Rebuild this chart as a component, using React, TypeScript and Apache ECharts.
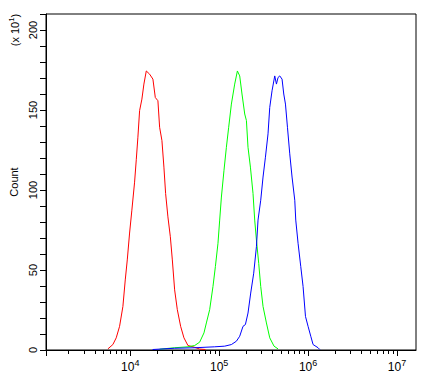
import React, { useEffect, useRef } from "react";
import * as echarts from "echarts";

// Fluorescence intensity (x) and count (x10^1) per curve
const redX = [5600, 6370, 6950, 7580, 8260, 8780, 9250, 9820, 10420, 11180, 11690, 12180, 12730, 13510, 14230, 15140, 16500, 17970, 19120, 20460, 21380, 22700, 23900, 24970, 26510, 28220, 29720, 31540, 33820, 36850, 40150, 44540, 50700, 60300, 70000];
const redY = [0.7, 3.4, 7.6, 14.8, 27.2, 43.8, 56.3, 73.1, 87.4, 104.9, 119.2, 133.0, 149.6, 156.8, 166.2, 174.4, 172.4, 169.3, 157.8, 155.8, 139.2, 130.9, 114.3, 97.8, 83.2, 70.8, 56.3, 37.6, 25.2, 14.8, 7.6, 2.8, 2.0, 0.6, 0.3];

const greenX = [21400, 31540, 44540, 52990, 60300, 67450, 71770, 78170, 85150, 90630, 96940, 101300, 105900, 113300, 120500, 127900, 137200, 149500, 160300, 170200, 180600, 193800, 202500, 211000, 224600, 240300, 251000, 262400, 278600, 293400, 311400, 340100, 370500, 414200, 459400];
const greenY = [0.5, 1.4, 2.0, 2.8, 4.9, 10.7, 16.9, 25.2, 39.7, 52.1, 66.7, 81.2, 95.6, 112.3, 126.7, 139.2, 153.7, 166.2, 174.4, 171.3, 160.0, 147.5, 143.4, 126.7, 114.3, 97.8, 81.2, 68.7, 54.0, 39.7, 27.2, 16.9, 7.6, 2.4, 0.7];

const blueX = [17830, 31540, 52990, 88990, 115300, 137200, 156200, 170200, 185400, 197200, 211000, 226300, 244600, 262400, 273500, 293400, 311400, 331400, 354400, 370500, 393200, 421700, 440700, 459400, 480100, 509600, 532600, 556700, 586200, 622300, 660500, 708500, 726800, 771700, 827800, 878600, 935000, 1000000, 1072500, 1138700, 1296000, 1355000];
const blueY = [0.3, 1.1, 1.4, 2.0, 2.4, 3.4, 5.5, 8.6, 14.8, 15.9, 23.1, 35.6, 48.0, 64.6, 81.2, 93.6, 108.1, 120.5, 135.1, 151.6, 162.0, 171.3, 166.2, 170.3, 171.3, 169.3, 160.0, 153.7, 139.2, 122.6, 108.1, 93.6, 81.2, 66.7, 52.1, 39.7, 21.0, 14.8, 8.6, 3.4, 1.4, 0.3];

const xMin = 1127;
const xMax = 16370000;
const xLabelValues = [10000, 100000, 1000000, 10000000];
const xMinorTicks = [
  2000, 3000, 4000, 5000, 6000, 7000, 8000, 9000,
  20000, 30000, 40000, 50000, 60000, 70000, 80000, 90000,
  200000, 300000, 400000, 500000, 600000, 700000, 800000, 900000,
  2000000, 3000000, 4000000, 5000000, 6000000, 7000000, 8000000, 9000000,
];
const yLabelValues = [0, 50, 100, 150, 200];

const zip = (xs: number[], ys: number[]) => xs.map((x, i) => [x, ys[i]]);

export default function App() {
  const ref = useRef<HTMLDivElement>(null);
  useEffect(() => {
    document.body.style.margin = "0";
    const chart = echarts.init(ref.current!, null, { renderer: "svg" });
    const font = "Liberation Sans";
    const lineSeries = (data: number[][], color: string) => ({
      type: "line",
      data,
      xAxisIndex: 0,
      symbol: "none",
      smooth: false,
      lineStyle: { color, width: 1 },
      itemStyle: { color },
    });
    chart.setOption({
      animation: false,
      backgroundColor: "#fff",
      grid: {
        left: 46,
        top: 14,
        right: 15,
        bottom: 31,
        show: true,
        borderColor: "#000",
        borderWidth: 1,
        backgroundColor: "transparent",
      },
      xAxis: [
        {
          type: "log",
          logBase: 10,
          min: xMin,
          max: xMax,
          axisLine: { lineStyle: { color: "#000", width: 1 } },
          axisTick: { show: true, length: 4, customValues: xMinorTicks, lineStyle: { color: "#000" } },
          splitLine: { show: false },
          minorTick: { show: false },
          axisLabel: {
            customValues: xLabelValues,
            margin: 8,
            color: "#000",
            fontFamily: font,
            formatter: (v: number) => `{b|10}{s|${Math.round(Math.log10(v))}}`,
            rich: {
              b: { fontSize: 12, fontFamily: font, color: "#000" },
              s: { fontSize: 9, fontFamily: font, color: "#000", padding: [0, 0, 8, 0] },
            },
          },
        },
        {
          type: "log",
          logBase: 10,
          min: xMin,
          max: xMax,
          position: "bottom",
          axisLine: { show: false },
          axisTick: { show: true, length: 6, customValues: [xMin, ...xLabelValues], lineStyle: { color: "#000" } },
          splitLine: { show: false },
          axisLabel: { show: false },
        },
      ],
      yAxis: {
        type: "value",
        min: 0,
        max: 210,
        interval: 10,
        name: "Count",
        nameLocation: "middle",
        nameGap: 23,
        nameRotate: 90,
        nameTextStyle: { fontSize: 11, fontFamily: font, color: "#000" },
        axisLine: { show: true, lineStyle: { color: "#000", width: 1 } },
        axisTick: { show: true, length: 6, lineStyle: { color: "#000" } },
        splitLine: { show: false },
        axisLabel: {
          customValues: yLabelValues,
          rotate: 90,
          margin: 8,
          fontSize: 11,
          fontFamily: font,
          color: "#000",
        },
      },
      graphic: [
        {
          type: "text",
          x: 15,
          y: 30,
          rotation: Math.PI / 2,
          style: {
            text: "{a|(x 10}{s|1}{a|)}",
            align: "center",
            verticalAlign: "middle",
            rich: {
              a: { fontSize: 11, fontFamily: font, fill: "#000" },
              s: { fontSize: 8, fontFamily: font, fill: "#000", padding: [0, 0, 7, 0] },
            },
          },
        },
      ],
      series: [
        lineSeries(zip(redX, redY), "#ff0000"),
        lineSeries(zip(greenX, greenY), "#00ff00"),
        lineSeries(zip(blueX, blueY), "#0000ff"),
      ],
    });
    return () => chart.dispose();
  }, []);
  return <div ref={ref} style={{ width: 431, height: 381 }} />;
}
